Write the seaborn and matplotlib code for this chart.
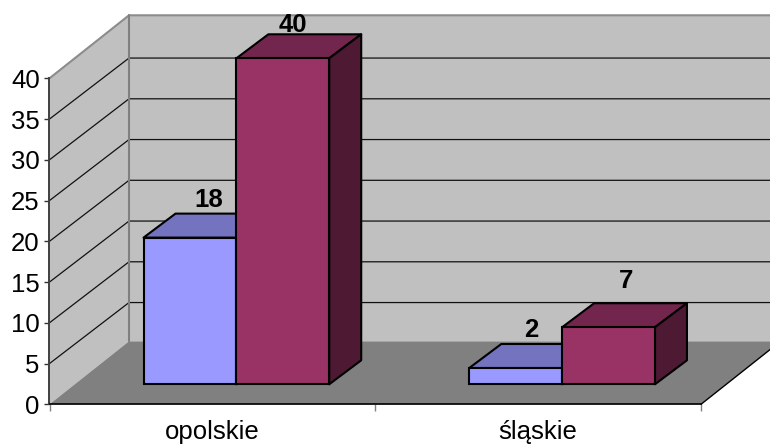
import matplotlib
matplotlib.use("Agg")
import matplotlib.pyplot as plt
from matplotlib.patches import Polygon
from matplotlib.transforms import ScaledTranslation
import pandas as pd
import seaborn as sns

regions = ["opolskie", "śląskie"]
series_a = [18, 2]
series_b = [40, 7]
y_ticks = [0, 5, 10, 15, 20, 25, 30, 35, 40]

front_colors = ["#9999FF", "#993366"]
top_colors = ["#7373BF", "#73264D"]
side_colors = ["#4D4D80", "#4D1933"]

df = pd.DataFrame({
    "region": regions * 2,
    "series": ["A"] * 2 + ["B"] * 2,
    "value": series_a + series_b,
})

W, H, DPI = 770, 444, 100
sns.set_theme(style="white")
plt.rcParams["font.family"] = ["Liberation Sans", "DejaVu Sans"]

fig = plt.figure(figsize=(W / DPI, H / DPI), dpi=DPI, facecolor="white")
L, R, T, B = 49.5, 701, 78.3, 404.3
ax = fig.add_axes([L / W, 1 - B / H, (R - L) / W, (B - T) / H])
ax.patch.set_visible(False)

sns.barplot(data=df, x="region", y="value", hue="series", width=0.57, gap=0,
            palette=front_colors, edgecolor="black", linewidth=1.5,
            saturation=1, legend=False, ax=ax, zorder=5, err_kws={"linewidth": 0})
x0, x1 = -0.5, 1.5
y0, y1 = 0, 40
ax.set_xlim(x0, x1)
ax.set_ylim(y0, y1)


def shift(dx, dy):
    return ax.transData + ScaledTranslation(dx / DPI, dy / DPI, fig.dpi_scale_trans)


# Room: depth of the box, and position of the bars inside it (pixels)
wall = shift(79.5, 63)
bar_shift = shift(24, 20)
bar_depth_x, bar_depth_y = 32, 24

# Data units per pixel, for the depth faces
ux = (x1 - x0) / (R - L)
uy = (y1 - y0) / (B - T)
ddx, ddy = bar_depth_x * ux, bar_depth_y * uy
wdx, wdy = 79.5 * ux, 63 * uy
grid_dy = 61 * uy

# Back wall, side wall, floor
ax.add_patch(Polygon([(x0, y0), (x1, y0), (x1, y1), (x0, y1)], closed=True,
                     fc="#C0C0C0", ec="none", transform=wall, clip_on=False, zorder=1))
ax.add_patch(Polygon([(x0, y0), (x0 + wdx, y0 + wdy), (x0 + wdx, y1 + wdy), (x0, y1)],
                     closed=True, fc="#C0C0C0", ec="none", clip_on=False, zorder=1))
ax.add_patch(Polygon([(x0, y0), (x1, y0), (x1 + wdx, y0 + wdy), (x0 + wdx, y0 + wdy)],
                     closed=True, fc="#808080", ec="none", clip_on=False, zorder=1.5))

# Gridlines on both walls
for v in y_ticks[1:-1]:
    ax.plot([x0, x0 + wdx, x1 + wdx], [v, v + grid_dy, v + grid_dy], color="#111111", lw=0.9,
            clip_on=False, zorder=2)
# Wall borders
ax.plot([x0, x0 + wdx, x1 + wdx], [y1, y1 + wdy, y1 + wdy], color="#8C8C8C", lw=1.5,
        clip_on=False, zorder=2)
ax.plot([x0 + wdx, x0 + wdx], [y0 + wdy, y1 + wdy], color="#808080", lw=1.5,
        clip_on=False, zorder=2)
# Lower right floor edge
ax.plot([x1, x1 + wdx], [y0, y0 + wdy], color="black", lw=1.0, clip_on=False, zorder=2)

# 3D bars: shift seaborn's bars into the room, add top and side faces
label_nudge = [(19, 38), (15.5, 38), (10, 33), (18, 46)]
bars = [p for p in ax.patches if p.get_zorder() == 5]
for i, bar in enumerate(bars):
    s = i // 2
    bx, by = bar.get_x(), bar.get_y()
    bw, bh = bar.get_width(), bar.get_height()
    z = 5 + s + i * 0.01
    bar.set_transform(bar_shift)
    bar.set_clip_on(False)
    bar.set_zorder(z + 0.2)
    top = Polygon([(bx, by + bh), (bx + ddx, by + bh + ddy),
                   (bx + bw + ddx, by + bh + ddy), (bx + bw, by + bh)], closed=True,
                  fc=top_colors[s], ec="black", lw=1.5, joinstyle="round",
                  transform=bar_shift, clip_on=False, zorder=z)
    side = Polygon([(bx + bw, by), (bx + bw + ddx, by + ddy),
                    (bx + bw + ddx, by + bh + ddy), (bx + bw, by + bh)], closed=True,
                   fc=side_colors[s], ec="black", lw=1.5, joinstyle="round",
                   transform=bar_shift, clip_on=False, zorder=z)
    ax.add_patch(top)
    ax.add_patch(side)
    nx, ny = label_nudge[i]
    ax.annotate(f"{bh:.0f}", xy=(bx + bw / 2, by + bh), xycoords=bar_shift,
                xytext=(nx * 72 / DPI, ny * 72 / DPI), textcoords="offset points",
                ha="center", va="center", fontsize=18.5, fontweight="bold",
                color="black", zorder=12, annotation_clip=False)

# Axes
ax.set_xlabel("")
ax.set_ylabel("")
ax.set_yticks(y_ticks)
ax.tick_params(axis="y", length=3.5, width=1.0, color="#333333", labelsize=18.5,
               pad=3.5, left=True, labelcolor="black")
ax.set_xticks(range(len(regions)))
ax.set_xticklabels(regions)
ax.tick_params(axis="x", which="major", length=0, labelsize=18.5, pad=11.5, labelcolor="black")
ax.set_xticks([-0.5, 0.5, 1.5], minor=True)
ax.tick_params(axis="x", which="minor", length=5, width=1.0, color="#808080", bottom=True)
for name in ("top", "right"):
    ax.spines[name].set_visible(False)
ax.spines["left"].set_color("#404040")
ax.spines["left"].set_linewidth(1.4)
ax.spines["bottom"].set_color("black")
ax.spines["bottom"].set_linewidth(1.2)
for sp in ax.spines.values():
    sp.set_zorder(3)

fig.savefig("out.png", dpi=DPI, facecolor="white")
